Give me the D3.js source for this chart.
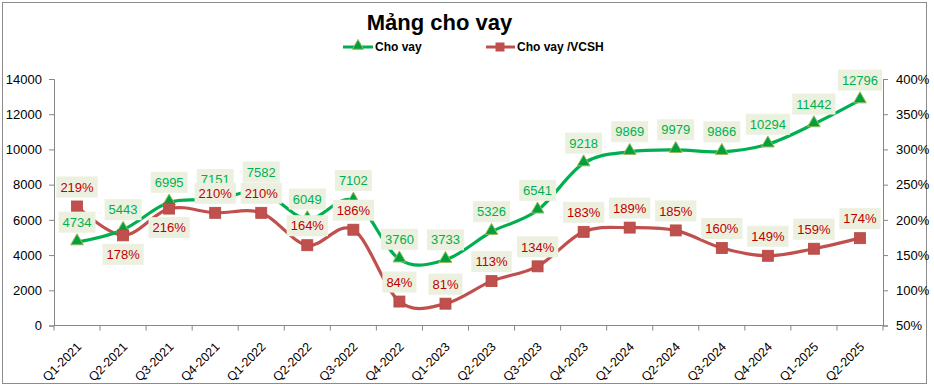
<!DOCTYPE html>
<html><head><meta charset="utf-8">
<script src="https://cdn.jsdelivr.net/npm/d3@7"></script>
<style>
html,body{margin:0;padding:0;background:#fff;}
svg text{font-family:"Liberation Sans",Arial,sans-serif;}
</style></head>
<body>
<svg id="chart" width="934" height="388"></svg>
<script>
const categories = ["Q1-2021","Q2-2021","Q3-2021","Q4-2021","Q1-2022","Q2-2022","Q3-2022","Q4-2022","Q1-2023","Q2-2023","Q3-2023","Q4-2023","Q1-2024","Q2-2024","Q3-2024","Q4-2024","Q1-2025","Q2-2025"];
const loanValues = [4734,5443,6995,7151,7582,6049,7102,3760,3733,5326,6541,9218,9869,9979,9866,10294,11442,12796];
const ratioValues = [219,178,216,210,210,164,186,84,81,113,134,183,189,185,160,149,159,174];
const leftTicks = [0,2000,4000,6000,8000,10000,12000,14000];
const rightTicks = [50,100,150,200,250,300,350,400];
const ratioLabelsBelow = ["Q2-2021","Q3-2021"];
const title = "Mảng cho vay";
const seriesNames = ["Cho vay","Cho vay /VCSH"];

const svg = d3.select("#chart");
const m = {left:54, right:883, top:79, bottom:325.5};
const green = "#00B050", greenText = "#00B050", red = "#C0504D", redText = "#C00000";
const boxFill = "#EBF1DE";

svg.append("rect").attr("x",2.5).attr("y",2.5).attr("width",924).attr("height",381)
  .attr("fill","#fff").attr("stroke","#8c8c8c").attr("stroke-width",1);

const x = d3.scaleBand().domain(categories).range([m.left,m.right]).paddingInner(0).paddingOuter(0);
const yL = d3.scaleLinear().domain([0,14000]).range([m.bottom,m.top]);
const yR = d3.scaleLinear().domain([50,400]).range([m.bottom,m.top]);
const cx = d => x(d) + x.bandwidth()/2;

// title
svg.append("text").attr("x",439.5).attr("y",30).attr("text-anchor","middle")
  .attr("font-size",22).attr("font-weight","bold").attr("fill","#000").text(title);

// legend
const lg = svg.append("g");
lg.append("line").attr("x1",343).attr("x2",373).attr("y1",47).attr("y2",47).attr("stroke",green).attr("stroke-width",3);
lg.append("path").attr("d",d3.symbol(d3.symbolTriangle,55)()).attr("transform","translate(358,46)")
  .attr("fill","#00A040").attr("stroke","#9BBB59").attr("stroke-width",1);
lg.append("text").attr("x",375).attr("y",51).attr("font-size",12).attr("font-weight","bold").text(seriesNames[0]);
lg.append("line").attr("x1",486).attr("x2",515).attr("y1",47).attr("y2",47).attr("stroke",red).attr("stroke-width",3);
lg.append("rect").attr("x",495.5).attr("y",42.5).attr("width",9).attr("height",9).attr("fill",red);
lg.append("text").attr("x",517).attr("y",51).attr("font-size",12).attr("font-weight","bold").text(seriesNames[1]);

// axes
const axisColor = "#868686";
const gL = svg.append("g").attr("transform",`translate(${m.left},0)`)
  .call(d3.axisLeft(yL).tickValues(leftTicks).tickSize(5).tickPadding(7).tickFormat(d3.format("d")));
const gR = svg.append("g").attr("transform",`translate(${m.right},0)`)
  .call(d3.axisRight(yR).tickValues(rightTicks).tickSize(5).tickPadding(8).tickFormat(d=>d+"%"));
const boundaries = d3.range(categories.length+1).map(i=>m.left + i*x.bandwidth());
const gX = svg.append("g");
gX.append("line").attr("x1",m.left).attr("x2",m.right).attr("y1",m.bottom).attr("y2",m.bottom).attr("stroke",axisColor);
gX.selectAll("line.t").data(boundaries).enter().append("line").attr("class","t")
  .attr("x1",d=>d).attr("x2",d=>d).attr("y1",m.bottom).attr("y2",m.bottom+5).attr("stroke",axisColor);
gX.selectAll("text").data(categories).enter().append("text")
  .attr("transform",d=>`translate(${cx(d)-1},${m.bottom+16}) rotate(-45)`)
  .attr("text-anchor","end").attr("dy","0.7em").attr("font-size",12.5).attr("fill","#000").text(d=>d);

[gL,gR].forEach(g=>{
  g.select(".domain").attr("stroke",axisColor);
  g.selectAll(".tick line").attr("stroke",axisColor);
  g.selectAll(".tick text").attr("font-size",13).attr("fill","#000").attr("font-family","Liberation Sans, Arial, sans-serif");
});

// lines
const curve = d3.curveCatmullRom.alpha(0);
const lineL = d3.line().x((d,i)=>cx(categories[i])).y(d=>yL(d)).curve(curve);
const lineR = d3.line().x((d,i)=>cx(categories[i])).y(d=>yR(d)).curve(curve);
svg.append("path").attr("d",lineR(ratioValues)).attr("fill","none").attr("stroke",red).attr("stroke-width",3.2).attr("stroke-linejoin","round");
svg.append("path").attr("d",lineL(loanValues)).attr("fill","none").attr("stroke",green).attr("stroke-width",3.2).attr("stroke-linejoin","round");

// markers
svg.selectAll("path.tri").data(loanValues).enter().append("path").attr("class","tri")
  .attr("d",d3.symbol(d3.symbolTriangle,70)())
  .attr("transform",(d,i)=>`translate(${cx(categories[i])},${yL(d)-1})`)
  .attr("fill","#00A040").attr("stroke","#9BBB59").attr("stroke-width",1);
svg.selectAll("rect.sq").data(ratioValues).enter().append("rect").attr("class","sq")
  .attr("x",(d,i)=>cx(categories[i])-5.5).attr("y",d=>yR(d)-5.5).attr("width",11).attr("height",11)
  .attr("fill",red).attr("stroke","#B5473F").attr("stroke-width",0.8);

// data labels
function label(px, py, txt, color){
  const g = svg.append("g");
  const r = g.append("rect").attr("fill",boxFill);
  const t = g.append("text").attr("x",px).attr("y",py).attr("text-anchor","middle")
    .attr("dy","0.36em").attr("font-size",13).attr("fill",color).text(txt);
  const w = t.node().getComputedTextLength();
  r.attr("x",px-w/2-4).attr("y",py-10.5).attr("width",w+8).attr("height",21);
}
loanValues.forEach((v,i)=>label(cx(categories[i]), yL(v)-20, String(v), greenText));
ratioValues.forEach((v,i)=>{
  const below = ratioLabelsBelow.includes(categories[i]);
  label(cx(categories[i]), yR(v) + (below?19:-19.5), v+"%", redText);
});
</script>
</body></html>
